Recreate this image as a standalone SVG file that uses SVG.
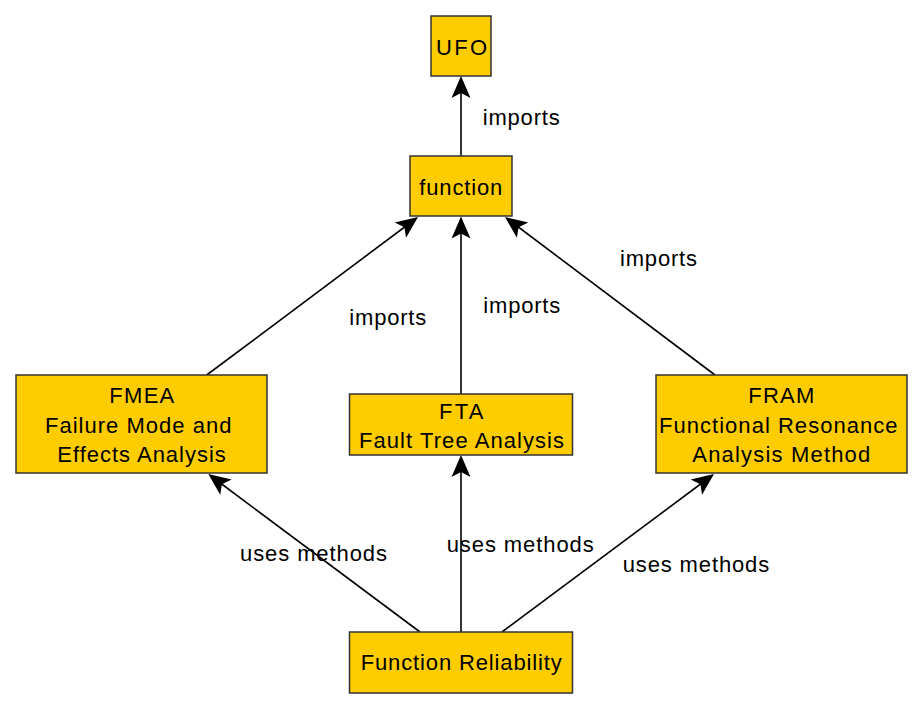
<svg xmlns="http://www.w3.org/2000/svg" width="924" height="708" viewBox="0 0 924 708">
<style>
.node rect { fill: #ffcc00; stroke: #333333; stroke-width: 1.5; }
text { font-family: "Liberation Sans", Arial, sans-serif; font-size: 22px; fill: #000000; }
.edge path { fill: none; stroke: #000000; stroke-width: 1.6; }
</style>
<defs>
<marker id="arr" markerUnits="userSpaceOnUse" orient="auto" refX="0" refY="0" markerWidth="30" markerHeight="30" overflow="visible">
<path d="M10,0 L-12,-9.5 L-7,0 L-12,9.5 Z" fill="#000000" stroke="none"/>
</marker>
</defs>
<rect x="0" y="0" width="924" height="708" fill="#ffffff"/>
<g id="edges" class="edge">
<path d="M461,155.7 L461,86" marker-end="url(#arr)"/>
<path d="M206.7,375 L410,223" marker-end="url(#arr)"/>
<path d="M461,394 L461,226.5" marker-end="url(#arr)"/>
<path d="M715,375 L513,223" marker-end="url(#arr)"/>
<path d="M420,632 L216.3,480" marker-end="url(#arr)"/>
<path d="M461,632 L461,465" marker-end="url(#arr)"/>
<path d="M502,632 L706,480" marker-end="url(#arr)"/>
<text x="482.7" y="125" textLength="77" lengthAdjust="spacing">imports</text>
<text x="349.3" y="325" textLength="77" lengthAdjust="spacing">imports</text>
<text x="483.3" y="313.3" textLength="77" lengthAdjust="spacing">imports</text>
<text x="620" y="266" textLength="77" lengthAdjust="spacing">imports</text>
<text x="240" y="560.7" textLength="147" lengthAdjust="spacing">uses methods</text>
<text x="446.7" y="551.7" textLength="147" lengthAdjust="spacing">uses methods</text>
<text x="622.7" y="571.7" textLength="146.5" lengthAdjust="spacing">uses methods</text>
</g>
<g id="UFO" class="node">
<rect x="431" y="16" width="60" height="60"/>
<text x="436" y="55" textLength="51" lengthAdjust="spacing">UFO</text>
</g>
<g id="function" class="node">
<rect x="410" y="156" width="102" height="60"/>
<text x="419.3" y="195" textLength="83" lengthAdjust="spacing">function</text>
</g>
<g id="FMEA" class="node">
<rect x="16" y="375" width="251" height="98"/>
<text x="109.3" y="403.3" textLength="65" lengthAdjust="spacing">FMEA</text>
<text x="45" y="432.7" textLength="186.5" lengthAdjust="spacing">Failure Mode and</text>
<text x="57.3" y="461.7" textLength="168.5" lengthAdjust="spacing">Effects Analysis</text>
</g>
<g id="FTA" class="node">
<rect x="349.5" y="394" width="223" height="61"/>
<text x="439" y="419" textLength="44.5" lengthAdjust="spacing">FTA</text>
<text x="359" y="447.7" textLength="205" lengthAdjust="spacing">Fault Tree Analysis</text>
</g>
<g id="FRAM" class="node">
<rect x="656" y="375" width="251" height="98"/>
<text x="748.3" y="403.3" textLength="66" lengthAdjust="spacing">FRAM</text>
<text x="659" y="432.7" textLength="238.5" lengthAdjust="spacing">Functional Resonance</text>
<text x="692.3" y="461.7" textLength="178" lengthAdjust="spacing">Analysis Method</text>
</g>
<g id="FunctionReliability" class="node">
<rect x="349.5" y="632" width="223" height="61"/>
<text x="360.7" y="670" textLength="201" lengthAdjust="spacing">Function Reliability</text>
</g>
</svg>
